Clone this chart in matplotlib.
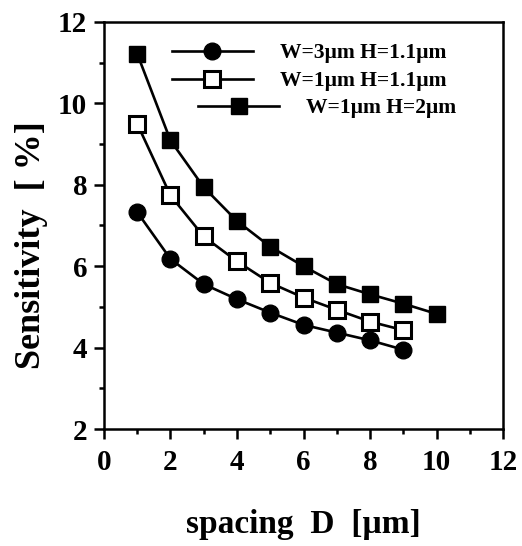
import matplotlib
matplotlib.use("Agg")
import matplotlib.pyplot as plt
from matplotlib.ticker import MultipleLocator

plt.rcParams['font.family'] = ['Liberation Serif', 'DejaVu Serif']
plt.rcParams['font.weight'] = 'bold'

# spacing D [um]
d_w3_h11 = [1, 2, 3, 4, 5, 6, 7, 8, 9]
d_w1_h11 = [1, 2, 3, 4, 5, 6, 7, 8, 9]
d_w1_h2 = [1, 2, 3, 4, 5, 6, 7, 8, 9, 10]

# sensitivity [%]
s_w3_h11 = [7.33, 6.18, 5.56, 5.19, 4.86, 4.56, 4.37, 4.18, 3.95]
s_w1_h11 = [9.5, 7.74, 6.73, 6.12, 5.59, 5.23, 4.93, 4.64, 4.43]
s_w1_h2 = [11.22, 9.09, 7.94, 7.11, 6.48, 6.0, 5.56, 5.31, 5.08, 4.83]

labels = ['W=3\u00b5m H=1.1\u00b5m', 'W=1\u00b5m H=1.1\u00b5m', 'W=1\u00b5m H=2\u00b5m']

fig = plt.figure(figsize=(5.22, 5.46), dpi=100)
ax = fig.add_axes([0.199, 0.214, 0.765, 0.746])

l1, = ax.plot(d_w3_h11, s_w3_h11, 'k-', lw=1.9, marker='o', ms=12,
              mfc='black', mec='black', label=labels[0])
l2, = ax.plot(d_w1_h11, s_w1_h11, 'k-', lw=1.9, marker='s', ms=11.5,
              mfc='white', mec='black', mew=2.2, label=labels[1])
l3, = ax.plot(d_w1_h2, s_w1_h2, 'k-', lw=1.9, marker='s', ms=12,
              mfc='black', mec='black', label=labels[2])

ax.set_xlim(0, 12)
ax.set_ylim(2, 12)
ax.xaxis.set_major_locator(MultipleLocator(2))
ax.xaxis.set_minor_locator(MultipleLocator(1))
ax.yaxis.set_major_locator(MultipleLocator(2))
ax.yaxis.set_minor_locator(MultipleLocator(1))
ax.tick_params(which='major', direction='out', length=7, width=1.8, labelsize=21, pad=5)
ax.tick_params(which='minor', direction='out', length=3.5, width=1.8)
ax.tick_params(axis='x', which='major', pad=7)
for s in ax.spines.values():
    s.set_linewidth(1.8)

ax.set_xlabel('spacing  D  [\u00b5m]', fontsize=24, fontweight='bold')
ax.set_ylabel('Sensitivity  [ %]', fontsize=26, fontweight='bold')
ax.xaxis.set_label_coords(0.5, -0.195)
ax.yaxis.set_label_coords(-0.14, 0.452)

# legend: first two entries, third shifted right
leg_kw = dict(frameon=False, fontsize=15.5, handlelength=3.77, handletextpad=1.25,
              labelspacing=0.37, borderaxespad=0, borderpad=0)
leg1 = ax.legend(handles=[l1, l2], loc='upper left', bbox_to_anchor=(0.170, 0.948), **leg_kw)
ax.add_artist(leg1)
ax.legend(handles=[l3], loc='upper left', bbox_to_anchor=(0.236, 0.813), **leg_kw)

fig.savefig('out.png', dpi=100)
